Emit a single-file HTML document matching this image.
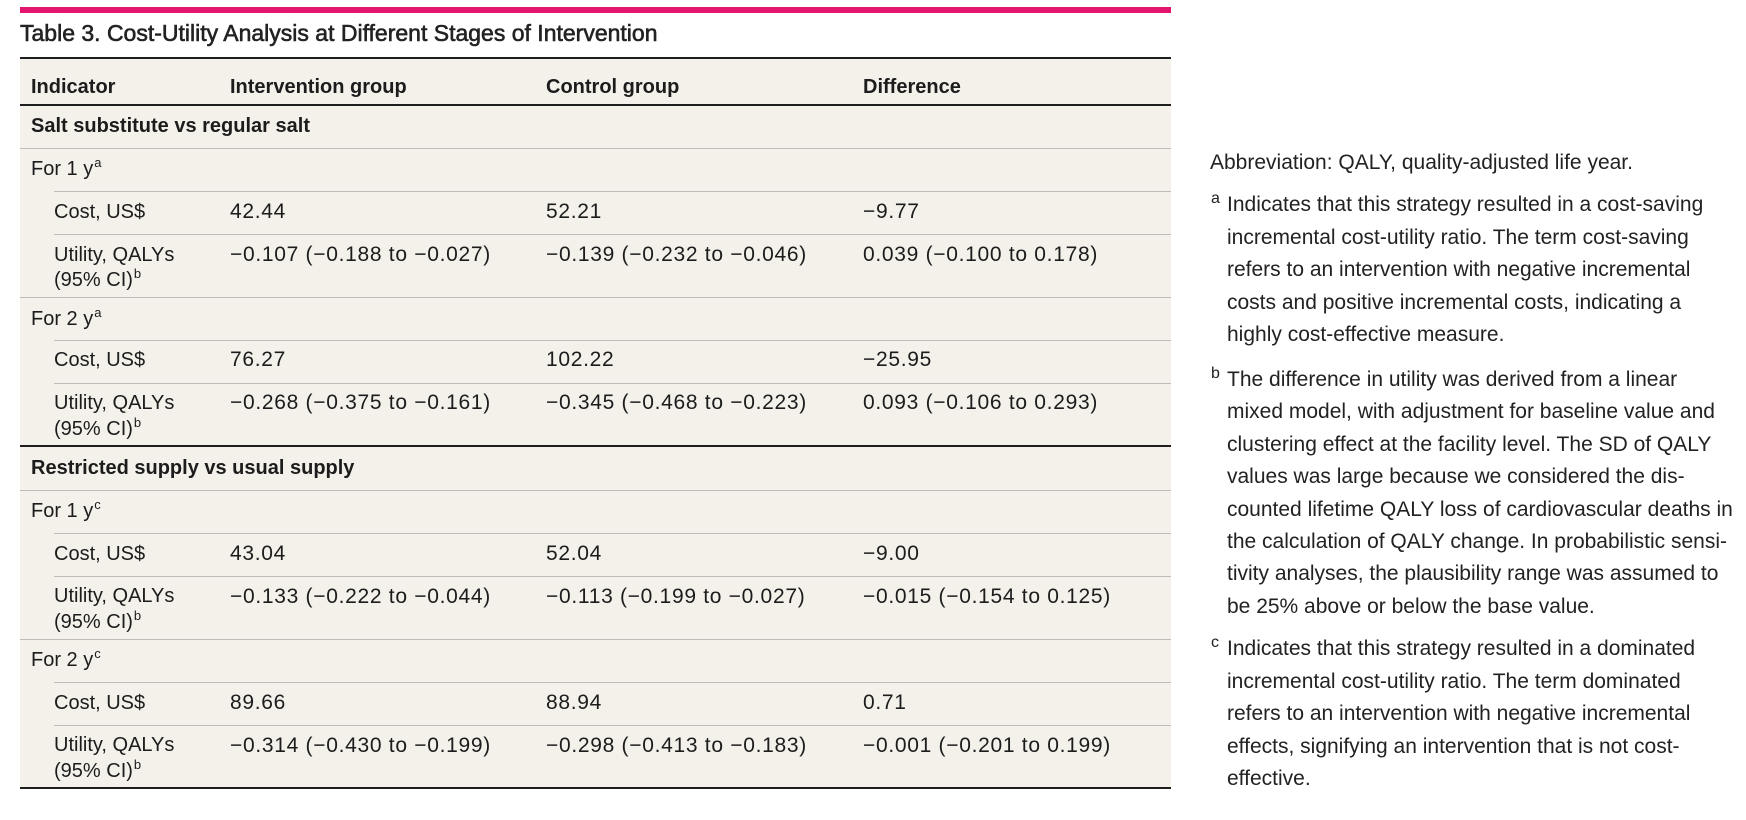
<!DOCTYPE html>
<html><head><meta charset="utf-8">
<style>
html,body{margin:0;padding:0;}
body{width:1746px;height:820px;position:relative;overflow:hidden;background:#fff;font-family:"Liberation Sans",sans-serif;color:#1c1c1c;}
.a{position:absolute;white-space:nowrap;line-height:1;}
.h{font-size:20px;font-weight:bold;}
.l{font-size:20px;}
.n{font-size:21px;letter-spacing:0.7px;}
.s{font-size:13px;position:relative;top:-8px;margin-left:1px;}
.hr{position:absolute;height:1px;background:#bdbcb8;}
.dk{position:absolute;height:2px;background:#1e1e1e;left:20px;width:1151px;}
.fn{position:absolute;left:1227px;font-size:21px;line-height:32.4px;white-space:nowrap;color:#222;}
.mk{position:absolute;font-size:16px;line-height:1;color:#222;}
</style></head><body>

<div style="position:absolute;left:20px;top:7px;width:1151px;height:6px;background:#e2156f;"></div>
<div class="a" style="left:20px;top:22px;font-size:23px;color:#222;-webkit-text-stroke:0.6px #222;">Table 3. Cost-Utility Analysis at Different Stages of Intervention</div>

<div style="position:absolute;left:20px;top:59px;width:1151px;height:729px;background:#f3f1ea;"></div>
<div class="dk" style="top:57px;"></div>
<div class="dk" style="top:104px;"></div>
<div class="dk" style="top:445px;"></div>
<div class="dk" style="top:787px;"></div>

<div class="hr" style="left:20px;width:1151px;top:148px;"></div>
<div class="hr" style="left:54px;width:1117px;top:191px;"></div>
<div class="hr" style="left:54px;width:1117px;top:234px;"></div>
<div class="hr" style="left:20px;width:1151px;top:297px;"></div>
<div class="hr" style="left:54px;width:1117px;top:340px;"></div>
<div class="hr" style="left:54px;width:1117px;top:383px;"></div>
<div class="hr" style="left:20px;width:1151px;top:490px;"></div>
<div class="hr" style="left:54px;width:1117px;top:533px;"></div>
<div class="hr" style="left:54px;width:1117px;top:576px;"></div>
<div class="hr" style="left:20px;width:1151px;top:639px;"></div>
<div class="hr" style="left:54px;width:1117px;top:682px;"></div>
<div class="hr" style="left:54px;width:1117px;top:725px;"></div>

<!-- header -->
<div class="a h" style="left:31px;top:77px;">Indicator</div>
<div class="a h" style="left:230px;top:77px;">Intervention group</div>
<div class="a h" style="left:546px;top:77px;">Control group</div>
<div class="a h" style="left:863px;top:77px;">Difference</div>

<!-- section 1 -->
<div class="a h" style="left:31px;top:116px;">Salt substitute vs regular salt</div>
<div class="a l" style="left:31px;top:159px;">For 1 y<span class="s">a</span></div>

<div class="a l" style="left:54px;top:201.5px;">Cost, US$</div>
<div class="a n" style="left:230px;top:200.7px;">42.44</div>
<div class="a n" style="left:546px;top:200.7px;">52.21</div>
<div class="a n" style="left:863px;top:200.7px;">−9.77</div>

<div class="a l" style="left:54px;top:244.5px;">Utility, QALYs</div>
<div class="a l" style="left:54px;top:270px;">(95% CI)<span class="s">b</span></div>
<div class="a n" style="left:230px;top:243.7px;">−0.107 (−0.188 to −0.027)</div>
<div class="a n" style="left:546px;top:243.7px;">−0.139 (−0.232 to −0.046)</div>
<div class="a n" style="left:863px;top:243.7px;">0.039 (−0.100 to 0.178)</div>

<div class="a l" style="left:31px;top:308.7px;">For 2 y<span class="s">a</span></div>

<div class="a l" style="left:54px;top:350px;">Cost, US$</div>
<div class="a n" style="left:230px;top:349.2px;">76.27</div>
<div class="a n" style="left:546px;top:349.2px;">102.22</div>
<div class="a n" style="left:863px;top:349.2px;">−25.95</div>

<div class="a l" style="left:54px;top:393px;">Utility, QALYs</div>
<div class="a l" style="left:54px;top:418.5px;">(95% CI)<span class="s">b</span></div>
<div class="a n" style="left:230px;top:392.2px;">−0.268 (−0.375 to −0.161)</div>
<div class="a n" style="left:546px;top:392.2px;">−0.345 (−0.468 to −0.223)</div>
<div class="a n" style="left:863px;top:392.2px;">0.093 (−0.106 to 0.293)</div>

<!-- section 2 -->
<div class="a h" style="left:31px;top:458px;">Restricted supply vs usual supply</div>
<div class="a l" style="left:31px;top:501.3px;">For 1 y<span class="s">c</span></div>

<div class="a l" style="left:54px;top:543.5px;">Cost, US$</div>
<div class="a n" style="left:230px;top:542.7px;">43.04</div>
<div class="a n" style="left:546px;top:542.7px;">52.04</div>
<div class="a n" style="left:863px;top:542.7px;">−9.00</div>

<div class="a l" style="left:54px;top:586.3px;">Utility, QALYs</div>
<div class="a l" style="left:54px;top:612px;">(95% CI)<span class="s">b</span></div>
<div class="a n" style="left:230px;top:585.5px;">−0.133 (−0.222 to −0.044)</div>
<div class="a n" style="left:546px;top:585.5px;">−0.113 (−0.199 to −0.027)</div>
<div class="a n" style="left:863px;top:585.5px;">−0.015 (−0.154 to 0.125)</div>

<div class="a l" style="left:31px;top:650.3px;">For 2 y<span class="s">c</span></div>

<div class="a l" style="left:54px;top:693px;">Cost, US$</div>
<div class="a n" style="left:230px;top:692.2px;">89.66</div>
<div class="a n" style="left:546px;top:692.2px;">88.94</div>
<div class="a n" style="left:863px;top:692.2px;">0.71</div>

<div class="a l" style="left:54px;top:735.3px;">Utility, QALYs</div>
<div class="a l" style="left:54px;top:761.3px;">(95% CI)<span class="s">b</span></div>
<div class="a n" style="left:230px;top:734.5px;">−0.314 (−0.430 to −0.199)</div>
<div class="a n" style="left:546px;top:734.5px;">−0.298 (−0.413 to −0.183)</div>
<div class="a n" style="left:863px;top:734.5px;">−0.001 (−0.201 to 0.199)</div>

<!-- footnotes -->
<div class="fn" style="left:1210px;top:146.5px;">Abbreviation: QALY, quality-adjusted life year.</div>

<div class="mk" style="left:1211px;top:191px;">a</div>
<div class="fn" style="top:189.3px;">Indicates that this strategy resulted in a cost-saving<br>incremental cost-utility ratio. The term cost-saving<br>refers to an intervention with negative incremental<br>costs and positive incremental costs, indicating a<br>highly cost-effective measure.</div>

<div class="mk" style="left:1211px;top:366px;">b</div>
<div class="fn" style="top:364px;">The difference in utility was derived from a linear<br>mixed model, with adjustment for baseline value and<br>clustering effect at the facility level. The SD of QALY<br>values was large because we considered the dis-<br>counted lifetime QALY loss of cardiovascular deaths in<br>the calculation of QALY change. In probabilistic sensi-<br>tivity analyses, the plausibility range was assumed to<br>be 25% above or below the base value.</div>

<div class="mk" style="left:1211px;top:635px;">c</div>
<div class="fn" style="top:633.3px;">Indicates that this strategy resulted in a dominated<br>incremental cost-utility ratio. The term dominated<br>refers to an intervention with negative incremental<br>effects, signifying an intervention that is not cost-<br>effective.</div>

</body></html>
